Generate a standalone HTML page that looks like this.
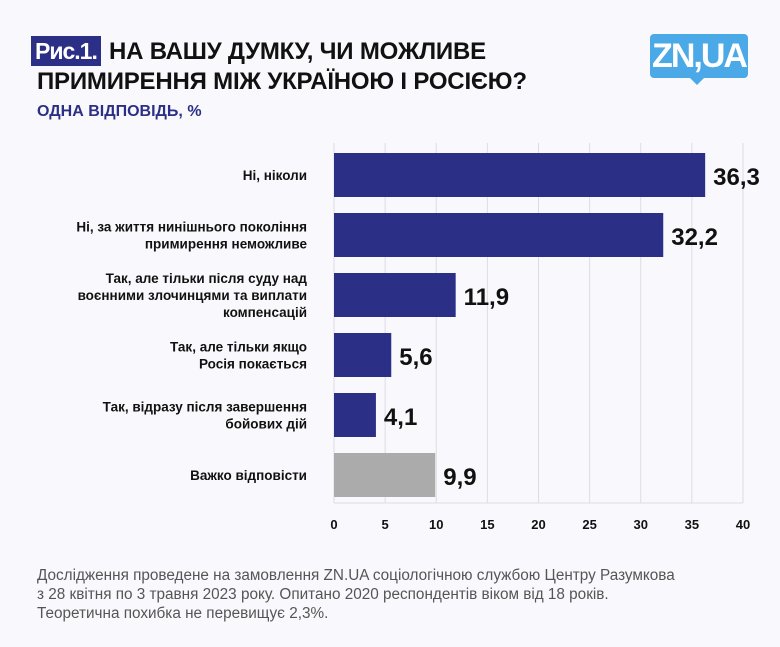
<!DOCTYPE html>
<html><head><meta charset="utf-8">
<style>
body{margin:0;background:#f9f9fd;font-family:"Liberation Sans",sans-serif;}
#c{position:relative;width:780px;height:647px;overflow:hidden;background:#f9f9fd;}
.t{position:absolute;font-weight:bold;color:#111;}
</style></head><body>
<div id="c">
<div class="t" style="left:31px;top:36px;height:30px;background:#2b2f86;color:#fff;font-size:23px;line-height:30px;padding:0 4px;letter-spacing:-1px">Рис.1.</div>
<div class="t" style="left:109px;top:37px;font-size:24px;line-height:30px;letter-spacing:-0.2px">НА ВАШУ ДУМКУ, ЧИ МОЖЛИВЕ</div>
<div class="t" style="left:37px;top:67px;font-size:24px;line-height:30px;letter-spacing:-0.2px">ПРИМИРЕННЯ МІЖ УКРАЇНОЮ І РОСІЄЮ?</div>
<div class="t" style="left:37px;top:103px;font-size:16px;color:#2b2f86">ОДНА ВІДПОВІДЬ, %</div>
<div style="position:absolute;left:650px;top:34px;width:98px;height:44px;background:#4aa9e6;border-radius:4px;color:#fff;font-weight:bold;font-size:34px;line-height:44px;text-align:center;letter-spacing:-2px">ZN,UA</div>
<div style="position:absolute;left:690px;top:78px;width:0;height:0;border-left:7px solid transparent;border-right:7px solid transparent;border-top:7px solid #4aa9e6"></div>
<svg id="s" width="780" height="647" style="position:absolute;left:0;top:0"></svg>
<div style="position:absolute;left:37px;top:566px;font-size:15.3px;line-height:19px;color:#555">Дослідження проведене на замовлення ZN.UA соціологічною службою Центру Разумкова<br>з 28 квітня по 3 травня 2023 року. Опитано 2020 респондентів віком від 18 років.<br>Теоретична похибка не перевищує 2,3%.</div>
</div>
<script>
const categories=[["Ні, ніколи"],["Ні, за життя нинішнього покоління","примирення неможливе"],["Так, але тільки після суду над","воєнними злочинцями та виплати","компенсацій"],["Так, але тільки якщо","Росія покається"],["Так, відразу після завершення","бойових дій"],["Важко відповісти"]];
const values=[36.3,32.2,11.9,5.6,4.1,9.9];
const valueLabels=["36,3","32,2","11,9","5,6","4,1","9,9"];
const ticks=[0,5,10,15,20,25,30,35,40];
const NS="http://www.w3.org/2000/svg",svg=document.getElementById('s');
const x0=334,x1=743,top0=143,band=60;
const xs=v=>x0+(v/40)*(x1-x0);
const ys=i=>top0+i*band;
function mk(t,a,txt){const e=document.createElementNS(NS,t);for(const k in a)e.setAttribute(k,a[k]);if(txt!=null)e.textContent=txt;svg.appendChild(e);return e;}
ticks.forEach(t=>{
 const l=mk('line',{x1:xs(t),x2:xs(t),y1:top0,y2:503,stroke:'#dcdce4','stroke-width':1});
 
 
 const tx=mk('text',{x:xs(t),y:529,'text-anchor':'middle','font-size':13,'font-weight':'bold',fill:'#111','font-family':'Liberation Sans'},t);
 
 
});
const bl=mk('line',{x1:x0,x2:x1,y1:503,y2:503,stroke:'#dcdce4'});


values.forEach((v,i)=>{
 const y=ys(i)+10;
 const r=mk('rect',{x:x0,y:y,width:xs(v)-x0,height:44,fill:i==5?'#ababab':'#2b2f86'});
 
 
 const vl=mk('text',{x:xs(v)+8,y:y+32,'font-size':24,'font-weight':'bold',fill:'#111','font-family':'Liberation Sans'},valueLabels[i]);
 
 
 const lines=categories[i],lh=17,cy=y+22-(lines.length-1)*lh/2+5;
 lines.forEach((s,j)=>{
  const c=mk('text',{x:307,y:cy+j*lh,'text-anchor':'end','font-size':13.5,'font-weight':'bold',fill:'#111','font-family':'Liberation Sans'},s);
  
  
 });
});
</script>
</body></html>
